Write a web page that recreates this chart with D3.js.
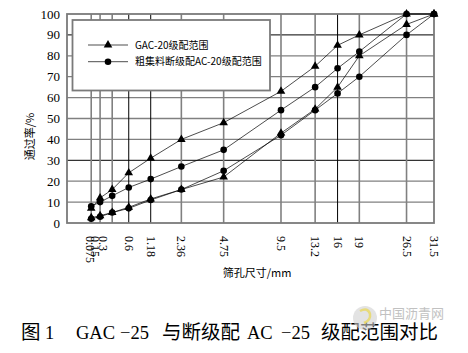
<!DOCTYPE html>
<html><head><meta charset="utf-8">
<script src="https://cdn.jsdelivr.net/npm/d3@7"></script>
<style>
body{margin:0;background:#fff;}
svg{display:block;}
</style></head>
<body>
<svg id="c" width="468" height="353"></svg>
<script>
const sieves = [0.075, 0.15, 0.3, 0.6, 1.18, 2.36, 4.75, 9.5, 13.2, 16, 19, 26.5, 31.5];
const sieveLabels = ["0.075","0.15","0.3","0.6","1.18","2.36","4.75","9.5","13.2","16","19","26.5","31.5"];
const gacUpper = [7, 12, 16, 24, 31, 40, 48, 63, 75, 85, 90, 100, 100];
const gacLower = [2.5, 3.5, 5, 7.5, 11.5, 16, 22, 43, 54.5, 65, 80, 95, 100];
const acUpper  = [8, 10, 13, 17, 21, 27, 35, 54, 65, 74, 82, 100, 100];
const acLower  = [2, 3, 5, 7, 11, 16, 25, 42, 54, 62, 70, 90, 100];
const yTicks = [0,10,20,30,40,50,60,70,80,90,100];
const darkX = [0.6, 1.18, 16];
const darkY = [30, 90];
const legendNames = ["GAC-20级配范围", "粗集料断级配AC-20级配范围"];
const captionParts = [
  {t: "图", cjk: true, x: 21}, {t: "1", cjk: false, x: 45},
  {t: "GAC", cjk: false, x: 76}, {t: "−25", cjk: false, x: 120},
  {t: "与断级配", cjk: true, x: 162}, {t: "AC", cjk: false, x: 247},
  {t: "−25", cjk: false, x: 281}, {t: "级配范围对比", cjk: true, x: 321}
];

const svg = d3.select("#c");
const L = 67, R = 434, T = 14, B = 223;
const x = d3.scalePow().exponent(0.45).domain([0, 31.5]).range([L, R]);
const y = d3.scaleLinear().domain([0, 100]).range([B, T]);
const serif = "'Liberation Serif','Times New Roman',serif";
const cjk = "'Noto Sans CJK SC','Liberation Serif',serif";

// grid horizontal
svg.append("g").selectAll("line").data(yTicks.filter(d => d > 0 && d < 100)).join("line")
  .attr("x1", L).attr("x2", R).attr("y1", d => y(d)).attr("y2", d => y(d))
  .attr("stroke", d => darkY.includes(d) ? "#000" : "#808080")
  .attr("stroke-width", d => darkY.includes(d) ? 1 : 1.3);
// grid vertical
svg.append("g").selectAll("line").data(sieves.slice(0, -1)).join("line")
  .attr("x1", d => x(d)).attr("x2", d => x(d)).attr("y1", T).attr("y2", B)
  .attr("stroke", d => darkX.includes(d) ? "#000" : "#808080")
  .attr("stroke-width", d => darkX.includes(d) ? 1 : 1.6);
// frame
svg.append("rect").attr("x", L).attr("y", T).attr("width", R - L).attr("height", B - T)
  .attr("fill", "none").attr("stroke", "#7a7a7a").attr("stroke-width", 1.8);

// axes labels
svg.append("g").selectAll("text").data(yTicks).join("text")
  .attr("x", 60).attr("y", d => y(d)).attr("dy", "0.35em")
  .attr("text-anchor", "end").attr("font-family", serif).attr("font-size", 13)
  .text(d => d);
const labelShift = [-1, -5, -9, 0, 0, 0, 0, 0, 0, 0, 0, 0, 0];
svg.append("g").selectAll("text").data(sieves).join("text")
  .attr("transform", (d, i) => `translate(${x(d) + labelShift[i]},${236}) rotate(90)`)
  .attr("dy", "0.33em")
  .attr("font-family", serif).attr("font-size", 12)
  .text((d, i) => sieveLabels[i]);

svg.append("text").attr("transform", `translate(34,136.5) rotate(-90)`)
  .attr("text-anchor", "middle").attr("font-family", cjk).attr("font-size", 11)
  .text("通过率/%");
svg.append("text").attr("x", 257).attr("y", 277).attr("text-anchor", "middle")
  .attr("font-family", cjk).attr("font-size", 11).text("筛孔尺寸/mm");

// series
const line = d3.line().x((d, i) => x(sieves[i])).y(d => y(d));
const series = [
  {v: gacUpper, m: "tri"}, {v: gacLower, m: "tri"},
  {v: acUpper, m: "cir"}, {v: acLower, m: "cir"}
];
const triPath = d3.symbol().type(d3.symbolTriangle).size(32);
function marker(g, type, cx, cy) {
  if (type === "tri") g.append("path").attr("d", triPath()).attr("transform", `translate(${cx},${cy})`).attr("fill", "#000");
  else g.append("circle").attr("cx", cx).attr("cy", cy).attr("r", 3.3).attr("fill", "#000");
}
series.forEach(s => {
  svg.append("path").attr("d", line(s.v)).attr("fill", "none").attr("stroke", "#000").attr("stroke-width", 0.7);
  const g = svg.append("g");
  s.v.forEach((d, i) => marker(g, s.m, x(sieves[i]), y(d)));
});

// legend
const lg = svg.append("g");
lg.append("rect").attr("x", 72.5).attr("y", 20).attr("width", 197.5).attr("height", 70.5)
  .attr("fill", "#fff").attr("stroke", "#7a7a7a").attr("stroke-width", 1.8);
legendNames.forEach((n, i) => {
  const ly = 45 + i * 16.7;
  lg.append("line").attr("x1", 88).attr("x2", 128).attr("y1", ly).attr("y2", ly).attr("stroke", "#000").attr("stroke-width", 0.7);
  marker(lg, i === 0 ? "tri" : "cir", 108, ly);
  lg.append("text").attr("x", 135).attr("y", ly).attr("dy", "0.35em")
    .attr("font-family", cjk).attr("font-size", 10).text(n);
});

// caption
svg.append("g").selectAll("text").data(captionParts).join("text")
  .attr("x", d => d.x).attr("y", 339)
  .attr("font-family", d => d.cjk ? cjk : serif)
  .attr("font-size", d => d.cjk ? 19.5 : 18.5)
  .attr("fill", "#000")
  .text(d => d.t);

// watermark (drawn over caption, semi-transparent)
svg.append("circle").attr("cx", 365).attr("cy", 318).attr("r", 12).attr("fill", "#d0d0d0").attr("opacity", 0.6);
svg.append("path").attr("d", "M360,311 q8,-4 10,3 q1,6 -6,9").attr("fill", "none").attr("stroke", "#e8d860").attr("stroke-width", 2.5).attr("opacity", 0.8);
svg.append("text").attr("x", 379).attr("y", 318).attr("font-family", cjk).attr("font-size", 13)
  .attr("fill", "#a8a8a8").attr("opacity", 0.7).text("中国沥青网");
</script>
</body></html>
